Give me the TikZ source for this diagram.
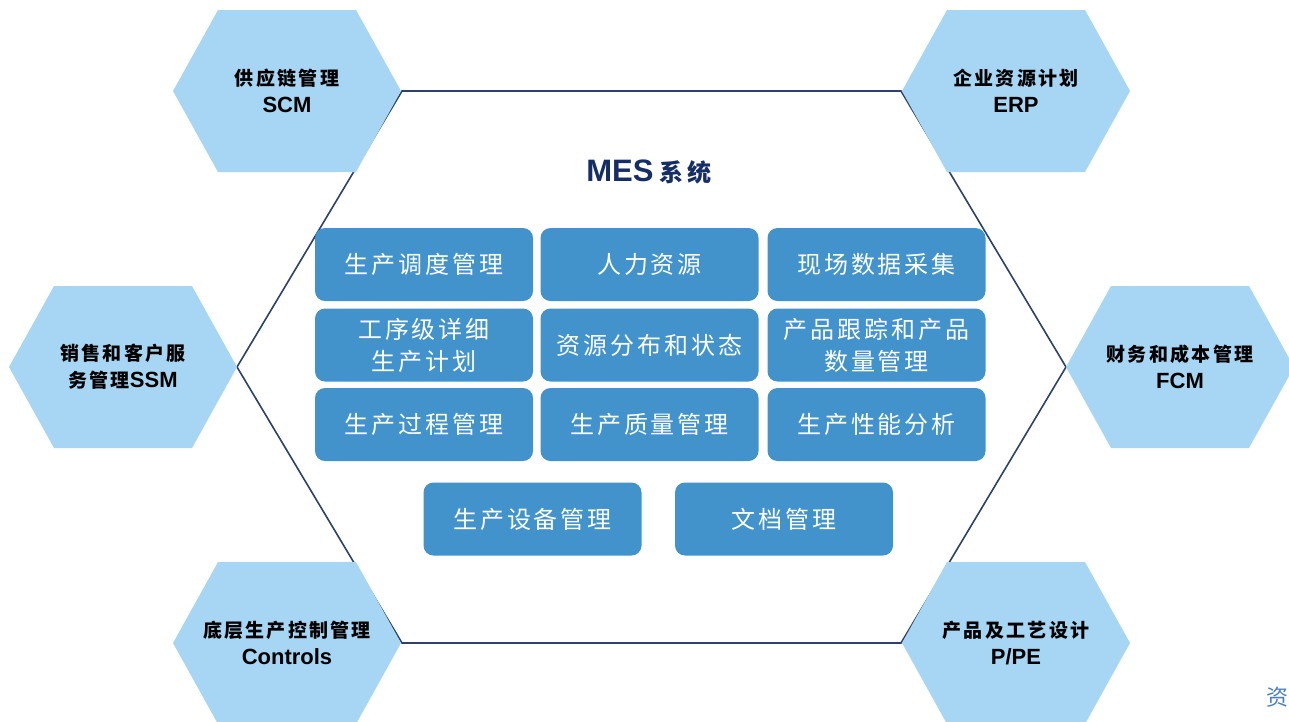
\documentclass[tikz,border=0pt]{standalone}
\usepackage{fontspec}
\setmainfont{Liberation Sans}
\newfontfamily\cjk[LetterSpace=12]{Noto Sans CJK SC}
\newfontfamily\cjkwide[LetterSpace=18]{Noto Sans CJK SC}
\newfontfamily\cjkplain{Noto Sans CJK SC}
\definecolor{hexblue}{RGB}{166,214,243}
\definecolor{boxblue}{RGB}{66,147,204}
\definecolor{hexline}{RGB}{44,66,104}
\definecolor{titlenavy}{RGB}{22,46,102}
\definecolor{wmblue}{RGB}{74,126,197}
\begin{document}
\begin{tikzpicture}[x=1pt,y=-1pt,
  smallhex/.style={fill=hexblue},
  hexlabel/.style={align=center,text=black,inner sep=0pt,font=\fontsize{19}{26}\selectfont},
  box/.style={fill=boxblue,rounded corners=10pt,minimum width=218pt,minimum height=73pt,
    inner sep=0pt,align=center,text=white,font=\cjk\fontsize{24}{32}\selectfont},
  outline/.style={draw=hexline,line width=1.6pt,line join=miter}]
\useasboundingbox (0,0) rectangle (1289,721);
\fill[white] (0,0) rectangle (1289,721);
% central hexagon
\coordinate (h1) at (402,91);
\coordinate (h2) at (901,91);
\coordinate (h3) at (1066,367);
\coordinate (h4) at (901,643);
\coordinate (h5) at (402,643);
\coordinate (h6) at (237,367);
\draw[outline] (h1) -- (h2) -- (h3) -- (h4) -- (h5) -- (h6) -- cycle;
% small hexagons
\foreach \cx/\cy in {287/91,1016/91,123/367,1180/367,287/643,1016/643}{
  \fill[smallhex,shift={(\cx,\cy)}] (-114,0) -- (-69,-81) -- (69,-81) -- (114,0) -- (69,81) -- (-69,81) -- cycle;
}
\node[hexlabel] (scm) at (287,91) {{\cjk\bfseries 供应链管理}\\[1pt]\fontsize{22}{26}\selectfont\bfseries SCM};
\node[hexlabel] (erp) at (1016,91) {{\cjk\bfseries 企业资源计划}\\[1pt]\fontsize{22}{26}\selectfont\bfseries ERP};
\node[hexlabel] (ssm) at (123,367) {{\cjk\bfseries 销售和客户服}\\[1pt]{\cjk\bfseries 务管理}{\fontsize{22}{26}\selectfont\bfseries SSM}};
\node[hexlabel] (fcm) at (1180,367) {{\cjk\bfseries 财务和成本管理}\\[1pt]\fontsize{22}{26}\selectfont\bfseries FCM};
\node[hexlabel] (ctl) at (287,643) {{\cjk\bfseries 底层生产控制管理}\\[1pt]\fontsize{22}{26}\selectfont\bfseries Controls};
\node[hexlabel] (ppe) at (1016,643) {{\cjk\bfseries 产品及工艺设计}\\[1pt]\fontsize{22}{26}\selectfont\bfseries P/PE};
% title
\node[text=titlenavy,inner sep=0pt] (title) at (649,172) {\fontsize{31}{32}\selectfont\bfseries MES\hspace{6pt}{\cjkwide\fontsize{24}{30}\selectfont\bfseries 系统}};
% boxes
\node[box] (b11) at (424,264.5) {生产调度管理};
\node[box] (b12) at (649.5,264.5) {人力资源};
\node[box] (b13) at (876.5,264.5) {现场数据采集};
\node[box] (b21) at (424,345) {工序级详细\\生产计划};
\node[box] (b22) at (649.5,345) {资源分布和状态};
\node[box] (b23) at (876.5,345) {产品跟踪和产品\\数量管理};
\node[box] (b31) at (424,424.5) {生产过程管理};
\node[box] (b32) at (649.5,424.5) {生产质量管理};
\node[box] (b33) at (876.5,424.5) {生产性能分析};
\node[box] (b41) at (532.5,519) {生产设备管理};
\node[box] (b42) at (784,519) {文档管理};
% watermark character
\node[text=wmblue,inner sep=0pt] (wm) at (1277,697) {\cjkplain\fontsize{22}{24}\selectfont 资};
\end{tikzpicture}
\end{document}
